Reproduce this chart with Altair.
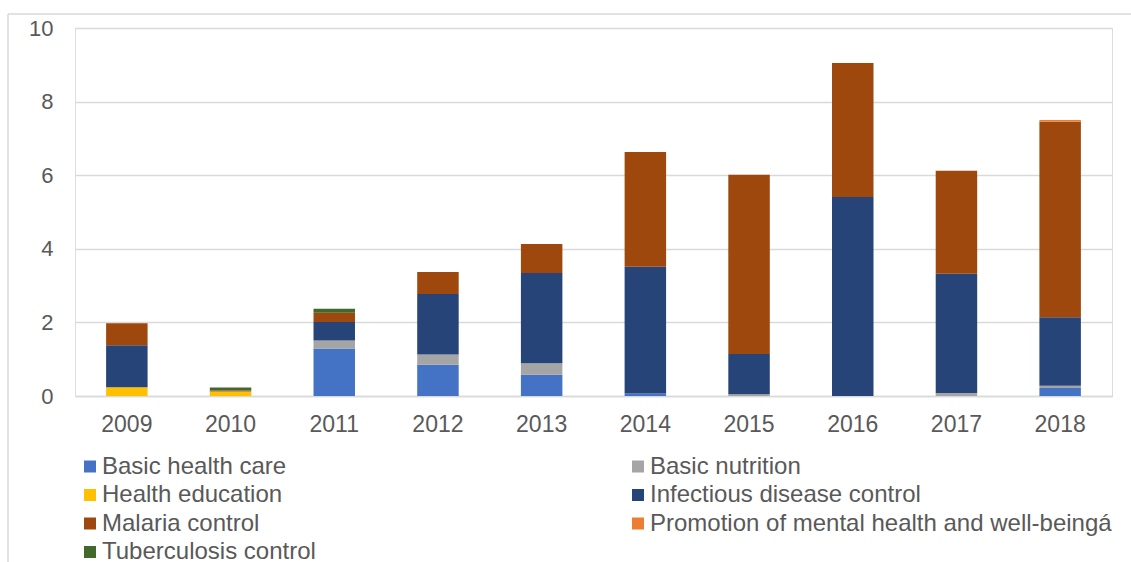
import altair as alt
import pandas as pd

years = ["2009", "2010", "2011", "2012", "2013", "2014", "2015", "2016", "2017", "2018"]

categories = [
    "Basic health care",
    "Basic nutrition",
    "Health education",
    "Infectious disease control",
    "Malaria control",
    "Promotion of mental health and well-beingá",
    "Tuberculosis control",
]

colors = ["#4472C4", "#A5A5A5", "#FFC000", "#264478", "#9E480E", "#ED7D31", "#43682B"]

basic_health_care = [0.00, 0.00, 1.29, 0.85, 0.58, 0.07, 0.00, 0.00, 0.00, 0.22]
basic_nutrition = [0.00, 0.00, 0.22, 0.28, 0.31, 0.00, 0.05, 0.00, 0.08, 0.06]
health_education = [0.24, 0.12, 0.00, 0.00, 0.00, 0.00, 0.00, 0.00, 0.00, 0.00]
infectious_disease = [1.14, 0.00, 0.50, 1.64, 2.45, 3.44, 1.09, 5.41, 3.24, 1.86]
malaria_control = [0.60, 0.03, 0.25, 0.60, 0.79, 3.12, 4.87, 3.64, 2.80, 5.31]
mental_health = [0.00, 0.00, 0.00, 0.00, 0.00, 0.00, 0.00, 0.00, 0.00, 0.05]
tuberculosis = [0.00, 0.08, 0.11, 0.00, 0.00, 0.00, 0.00, 0.00, 0.00, 0.00]

series = [
    basic_health_care,
    basic_nutrition,
    health_education,
    infectious_disease,
    malaria_control,
    mental_health,
    tuberculosis,
]

rows = []
for k, (name, vals) in enumerate(zip(categories, series)):
    for year, v in zip(years, vals):
        rows.append({"year": year, "category": name, "value": v, "rank": k})
df = pd.DataFrame(rows)

FONT = "Liberation Sans"
TEXT = "#595959"
GRID = "#D9D9D9"

bars = alt.Chart(df).mark_bar().encode(
    x=alt.X(
        "year:N",
        sort=years,
        title=None,
        scale=alt.Scale(paddingInner=0.6, paddingOuter=0.3),
        axis=alt.Axis(
            labelAngle=0,
            labelFontSize=23,
            labelColor=TEXT,
            labelFont=FONT,
            labelPadding=17,
            ticks=False,
            domainColor=GRID,
            domainWidth=1.5,
        ),
    ),
    y=alt.Y(
        "value:Q",
        title=None,
        stack="zero",
        scale=alt.Scale(domain=[0, 10], nice=False),
        axis=alt.Axis(
            values=[0, 2, 4, 6, 8, 10],
            labelFontSize=22,
            labelColor=TEXT,
            labelFont=FONT,
            labelPadding=22,
            ticks=False,
            domain=False,
            gridColor=GRID,
            gridWidth=1.5,
        ),
    ),
    color=alt.Color(
        "category:N",
        sort=categories,
        scale=alt.Scale(domain=categories, range=colors),
        legend=alt.Legend(
            title=None,
            orient="none",
            direction="horizontal",
            legendX=3,
            legendY=426.5,
            columns=2,
            columnPadding=310,
            rowPadding=4.5,
            symbolType="square",
            symbolSize=144,
            symbolStrokeWidth=0,
            labelFontSize=24,
            labelFont=FONT,
            labelColor=TEXT,
            labelOffset=0,
            labelLimit=600,
        ),
    ),
    order=alt.Order("rank:Q", sort="ascending"),
)

# light frame around the chart area (top and left edges)
frame_top = alt.Chart(pd.DataFrame({"a": [0]})).mark_rule(color=GRID, strokeWidth=1.5).encode(
    x=alt.value(-67), x2=alt.value(1060), y=alt.value(-14)
)
frame_left = alt.Chart(pd.DataFrame({"a": [0]})).mark_rule(color=GRID, strokeWidth=1.5).encode(
    x=alt.value(-67), y=alt.value(-14), y2=alt.value(540)
)

chart = (
    alt.layer(bars, frame_top, frame_left)
    .properties(
        width=1037,
        height=368,
        autosize=alt.AutoSizeParams(type="none"),
        padding={"left": 75, "top": 28, "right": 19, "bottom": 166},
    )
    .configure_view(stroke=None)
    .configure(font=FONT, background="white")
)

chart.save("out.html", embed_options={"renderer": "svg", "actions": False})
